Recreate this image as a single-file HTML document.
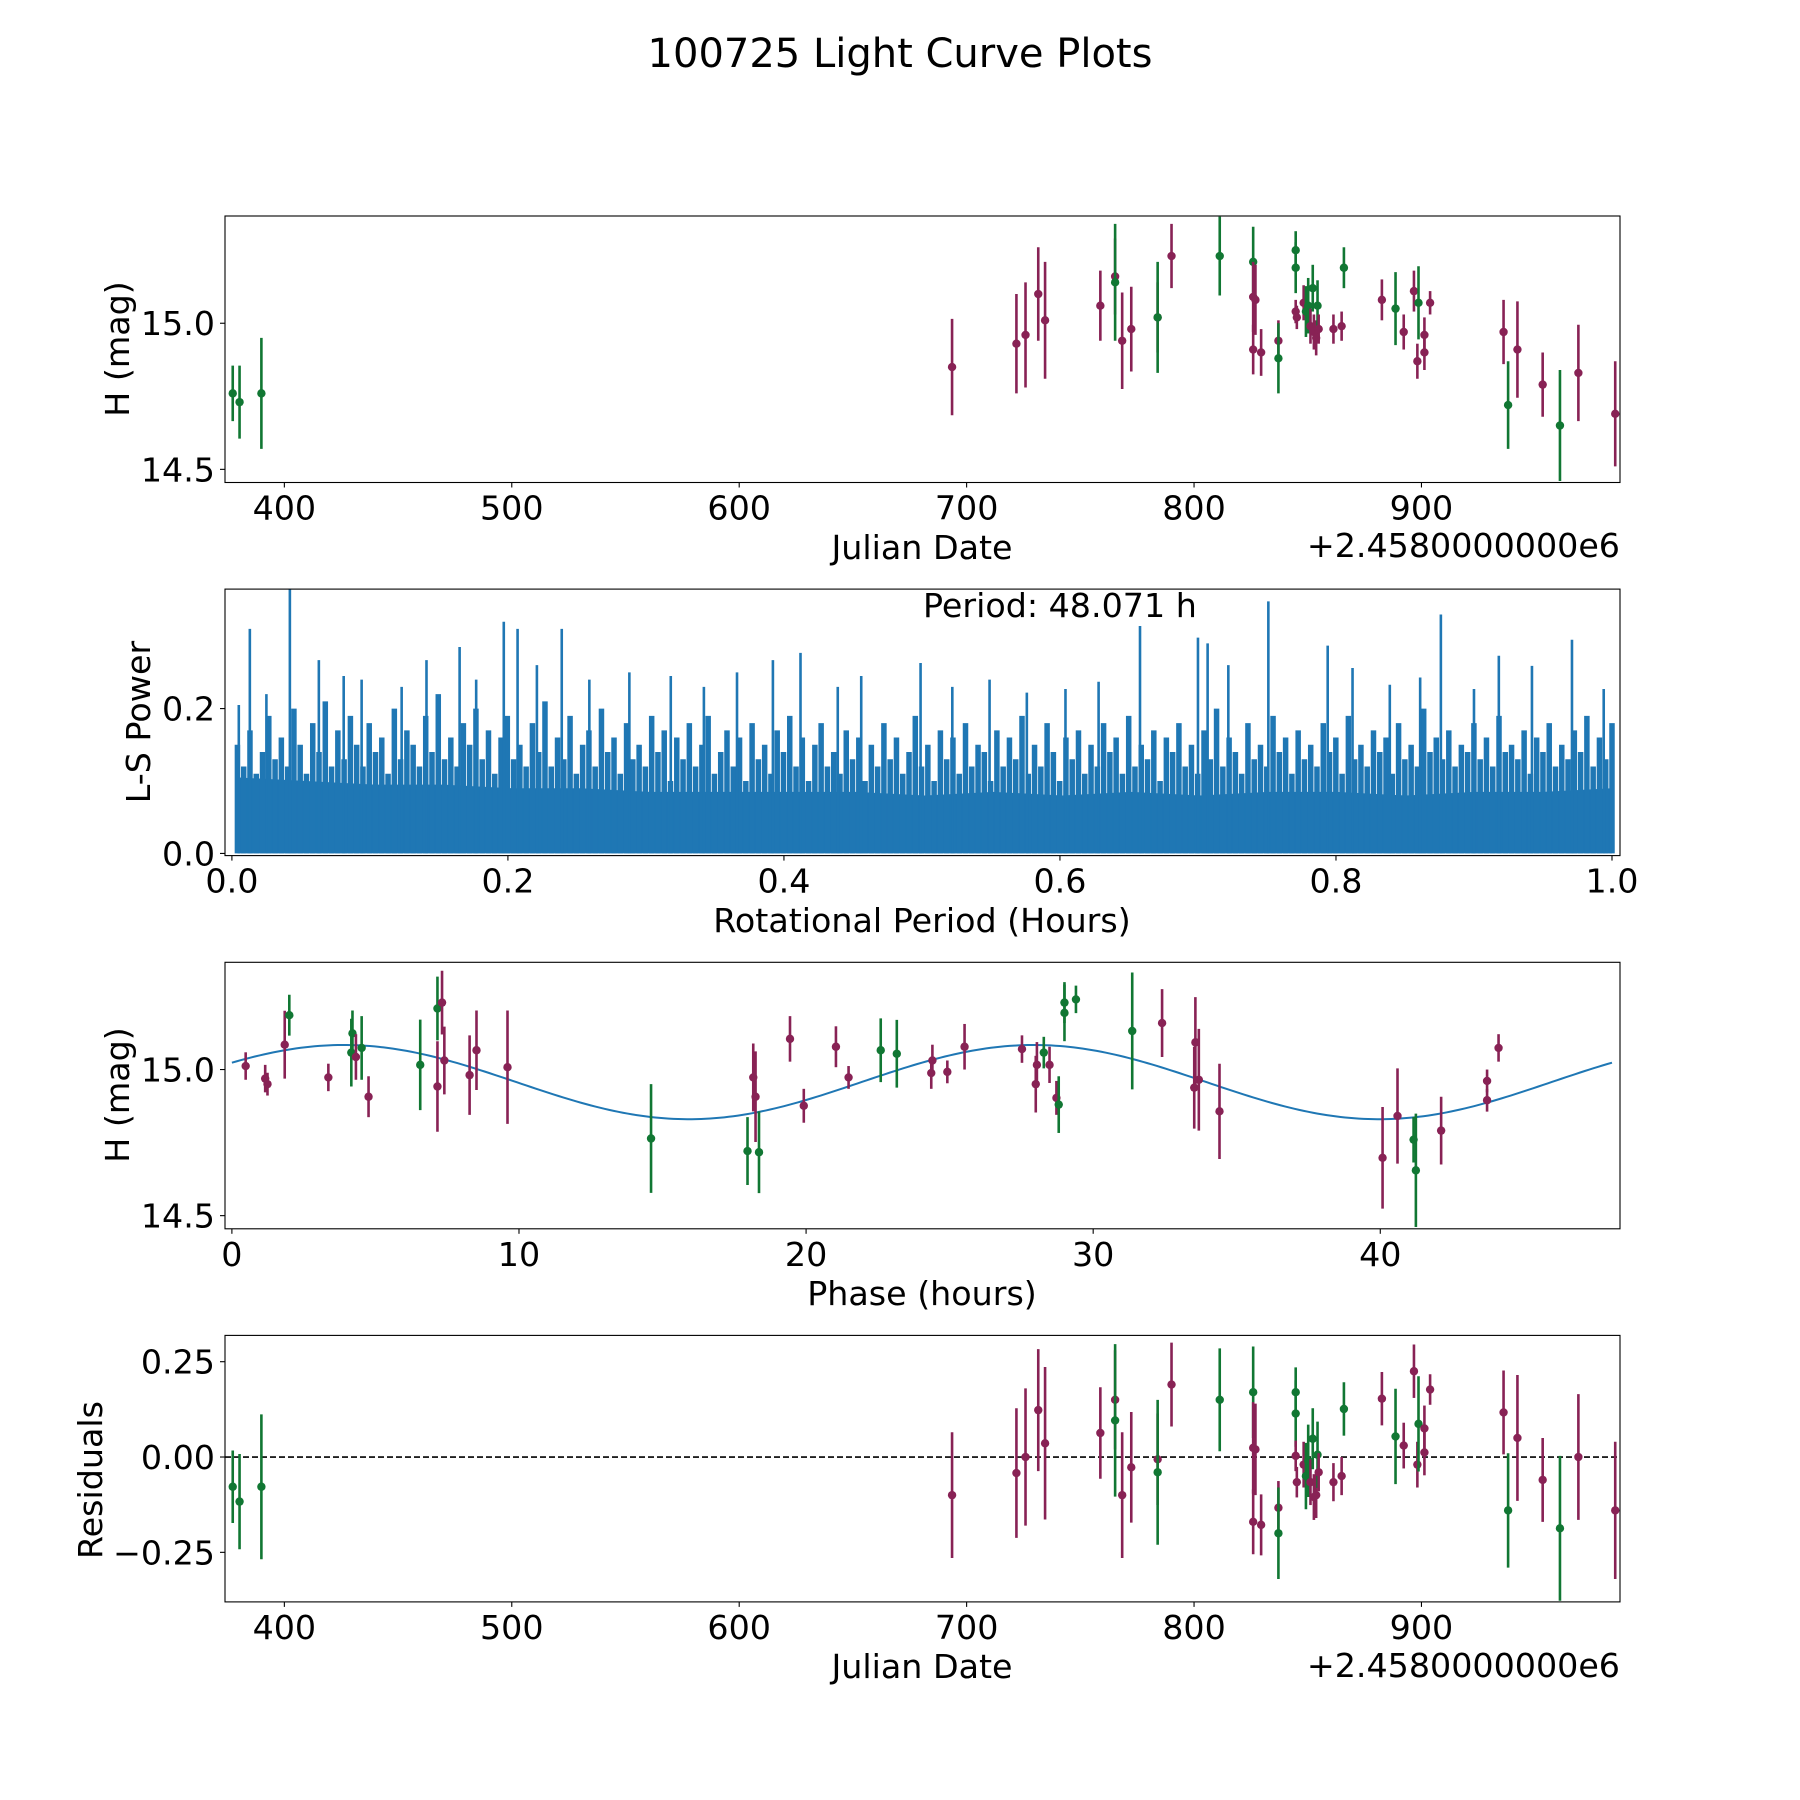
<!DOCTYPE html>
<html><head><meta charset="utf-8"><style>
html,body{margin:0;padding:0;background:#fff;}
svg{display:block;font-family:"DejaVu Sans","Liberation Sans",sans-serif;}
</style></head><body>
<svg id="fig" width="1800" height="1800" viewBox="0 0 1800 1800" xmlns="http://www.w3.org/2000/svg">
<rect width="1800" height="1800" fill="#fff"/>
<text x="900" y="67" font-size="40" text-anchor="middle">100725 Light Curve Plots</text>
</svg>
<script>
// ---------- data: observations ----------
const obsJD = [377.3,380.3,389.9,693.6,721.9,725.9,731.5,734.5,758.8,765.3,765.3,768.4,772.4,784.0,784.0,790.1,811.3,826.0,826.0,827.0,826.0,829.5,837.1,837.1,844.7,844.7,844.7,845.2,848.2,849.2,850.2,851.2,852.2,852.7,853.7,854.3,854.8,861.3,864.9,865.9,882.6,888.6,892.2,896.7,898.2,898.7,901.3,901.3,903.8,936.1,938.1,942.2,953.3,960.9,969.0,985.2];
const obsMag = [14.76,14.73,14.76,14.85,14.93,14.96,15.10,15.01,15.06,15.16,15.14,14.94,14.98,15.02,15.02,15.23,15.23,15.21,15.09,15.08,14.91,14.90,14.94,14.88,15.25,15.19,15.04,15.02,15.07,15.04,15.06,14.99,15.12,14.97,14.95,15.06,14.98,14.98,14.99,15.19,15.08,15.05,14.97,15.11,14.87,15.07,14.96,14.90,15.07,14.97,14.72,14.91,14.79,14.65,14.83,14.69];
const obsErr = [0.095,0.125,0.19,0.165,0.17,0.18,0.16,0.2,0.12,0.13,0.2,0.165,0.145,0.12,0.19,0.11,0.135,0.12,0.12,0.12,0.085,0.08,0.07,0.12,0.065,0.087,0.04,0.04,0.06,0.087,0.095,0.06,0.08,0.06,0.06,0.087,0.05,0.05,0.05,0.07,0.07,0.125,0.06,0.07,0.06,0.125,0.06,0.06,0.04,0.11,0.15,0.165,0.11,0.19,0.165,0.18];
const obsFilter = ['g','g','g','m','m','m','m','m','m','m','g','m','m','m','g','m','g','g','m','m','m','m','m','g','g','g','m','m','m','g','g','m','g','m','m','g','m','m','m','g','m','g','m','m','m','g','m','m','m','m','g','m','m','g','m','m'];
const obsResid = [-0.078,-0.117,-0.078,-0.10,-0.042,0.0,0.123,0.036,0.063,0.15,0.096,-0.10,-0.027,-0.006,-0.04,0.19,0.15,0.17,0.024,0.02,-0.17,-0.178,-0.133,-0.2,0.17,0.114,0.003,-0.066,-0.02,-0.05,-0.01,-0.066,0.048,-0.105,-0.1,0.006,-0.04,-0.066,-0.05,0.126,0.153,0.054,0.03,0.225,-0.02,0.087,0.075,0.012,0.177,0.117,-0.14,0.05,-0.06,-0.187,0.0,-0.14];
// ---------- data: phased ----------
const phaseHours = [0.48,1.16,1.24,1.84,2.0,3.36,4.2,4.16,4.32,4.52,4.76,6.56,7.16,7.16,7.32,7.4,8.28,8.52,9.6,14.6,17.96,18.16,18.24,18.36,19.44,19.92,21.04,21.48,22.6,23.16,24.36,24.4,24.92,25.52,27.52,28.0,28.04,28.28,28.48,28.72,28.8,29.0,29.0,29.4,31.36,32.4,33.52,33.56,33.68,34.4,40.08,40.6,41.16,41.24,42.12,43.72,43.72,44.12];
const phaseMag = [15.012,14.969,14.95,15.085,15.186,14.973,15.124,15.058,15.043,15.074,14.907,15.016,14.942,15.209,15.229,15.031,14.981,15.066,15.008,14.764,14.721,14.973,14.907,14.717,15.105,14.876,15.078,14.973,15.066,15.054,14.988,15.031,14.992,15.078,15.07,14.95,15.016,15.058,15.016,14.903,14.88,15.229,15.194,15.24,15.132,15.159,14.938,15.093,14.965,14.857,14.698,14.841,14.76,14.655,14.791,14.895,14.961,15.074];
const phaseErr = [0.047,0.047,0.039,0.116,0.07,0.047,0.078,0.116,0.078,0.109,0.07,0.155,0.155,0.109,0.109,0.116,0.136,0.136,0.194,0.186,0.116,0.116,0.155,0.14,0.078,0.058,0.07,0.039,0.109,0.116,0.054,0.054,0.039,0.078,0.047,0.097,0.078,0.054,0.062,0.058,0.097,0.07,0.097,0.047,0.2,0.116,0.14,0.155,0.174,0.163,0.174,0.163,0.078,0.194,0.116,0.039,0.039,0.047];
const phaseFilter = ['m','m','m','m','g','m','g','g','m','g','m','g','m','g','m','m','m','m','m','g','g','m','m','g','m','m','m','m','g','g','m','m','m','m','m','m','m','g','m','m','g','g','g','g','g','m','m','m','m','m','m','m','g','g','m','m','m','m'];
const modelMean = 14.957, modelAmp = 0.127, modelPeriod = 24.035, modelPeakHour = 3.9, foldPeriod = 48.071;
// ---------- data: periodogram ----------
const lsPeakP = [0.005,0.013,0.025,0.042,0.063,0.081,0.094,0.123,0.141,0.165,0.177,0.197,0.207,0.221,0.239,0.259,0.288,0.318,0.342,0.366,0.392,0.412,0.439,0.456,0.499,0.522,0.549,0.576,0.604,0.628,0.658,0.70,0.707,0.722,0.751,0.794,0.812,0.839,0.861,0.876,0.90,0.918,0.942,0.971,0.994];
const lsPeakPower = [0.205,0.31,0.22,0.365,0.267,0.245,0.24,0.23,0.267,0.285,0.24,0.32,0.31,0.26,0.31,0.24,0.25,0.245,0.23,0.25,0.267,0.277,0.23,0.245,0.263,0.23,0.24,0.222,0.227,0.237,0.314,0.298,0.29,0.26,0.348,0.287,0.256,0.233,0.243,0.33,0.227,0.273,0.259,0.295,0.227];
const lsMidPower = [
0.15,0.12,0.17,0.11,0.14,0.19,0.13,0.16,0.12,0.2,0.15,0.11,0.18,0.14,0.21,0.12,0.17,0.13,0.19,0.15,
0.12,0.18,0.14,0.16,0.11,0.2,0.13,0.17,0.15,0.12,0.19,0.14,0.22,0.13,0.16,0.12,0.18,0.15,0.2,0.13,
0.17,0.11,0.16,0.19,0.13,0.15,0.12,0.18,0.14,0.21,0.12,0.16,0.13,0.19,0.11,0.15,0.17,0.12,0.2,0.14,
0.16,0.11,0.18,0.13,0.15,0.12,0.19,0.14,0.17,0.1,0.16,0.13,0.18,0.12,0.15,0.19,0.11,0.14,0.17,0.12,
0.16,0.1,0.18,0.13,0.15,0.11,0.17,0.14,0.19,0.12,0.16,0.1,0.15,0.18,0.12,0.14,0.11,0.17,0.13,0.16,
0.1,0.15,0.12,0.18,0.13,0.16,0.11,0.14,0.19,0.12,0.15,0.1,0.17,0.13,0.16,0.11,0.18,0.12,0.15,0.14,
0.1,0.17,0.12,0.16,0.13,0.19,0.11,0.15,0.12,0.18,0.14,0.1,0.16,0.13,0.17,0.11,0.15,0.12,0.18,0.14,
0.16,0.11,0.19,0.12,0.15,0.13,0.17,0.1,0.16,0.14,0.18,0.12,0.15,0.11,0.17,0.13,0.2,0.12,0.16,0.14,
0.11,0.18,0.13,0.15,0.12,0.19,0.14,0.16,0.11,0.17,0.13,0.15,0.12,0.18,0.14,0.16,0.11,0.19,0.13,0.15,
0.12,0.17,0.14,0.16,0.11,0.18,0.13,0.15,0.12,0.2,0.14,0.16,0.13,0.17,0.12,0.15,0.14,0.18,0.13,0.16,
0.12,0.19,0.14,0.15,0.13,0.17,0.11,0.16,0.14,0.18,0.12,0.15,0.13,0.17,0.14,0.19,0.12,0.16,0.13,0.18];
const lsFloorPower = [0.105,0.1,0.095,0.095,0.09,0.09,0.085,0.085,0.085,0.085,0.08,0.085,0.08,0.085,0.08,0.085,0.085,0.08,0.085,0.085,0.09];
// ---------- ticks ----------
const jdTicks = [400,500,600,700,800,900];
const magTicks = [14.5,15.0];
const lsXTicks = [0.0,0.2,0.4,0.6,0.8,1.0];
const lsYTicks = [0.0,0.2];
const phaseTicks = [0,10,20,30,40];
const residTicks = [-0.25,0.0,0.25];

const svg = document.getElementById('fig');
const NS = 'http://www.w3.org/2000/svg';
const COL = {g:'#117733', m:'#882255'};
const FS = 33.3;
function mk(tag, attrs, parent){const e=document.createElementNS(NS,tag);for(const k in attrs)e.setAttribute(k,attrs[k]);(parent||svg).appendChild(e);return e;}
function fmt(v,d){const s=Math.abs(v).toFixed(d);return (v<0?'\u2212':'')+s;}

const L=225,R=1620,H=266.5;
function panel(top,xlim,ylim,name){
  const g=mk('g',{});
  
  
  const sx=v=>L+(v-xlim[0])/(xlim[1]-xlim[0])*(R-L);
  const sy=v=>top+H-(v-ylim[0])/(ylim[1]-ylim[0])*H;
  const clip='clip-'+name;
  const cp=mk('clipPath',{id:clip},g);mk('rect',{x:L,y:top,width:R-L,height:H},cp);
  const plot=mk('g',{'clip-path':'url(#'+clip+')'},g);
  return {g,plot,sx,sy,top,bot:top+H};
}
function frame(p,name){
  const r=mk('rect',{x:L,y:p.top,width:R-L,height:H,fill:'none',stroke:'#000','stroke-width':1.1},p.g);
  
  
}
function xticks(p,ticks,dec){
  ticks.forEach(t=>{const x=p.sx(t);
    mk('line',{x1:x,x2:x,y1:p.bot,y2:p.bot+5,stroke:'#000','stroke-width':1.1},p.g);
    const tx=mk('text',{x:x,y:p.bot+37,'font-size':FS,'text-anchor':'middle'},p.g);
    
    
    tx.textContent=fmt(t,dec);});
}
function yticks(p,ticks,dec){
  ticks.forEach(t=>{const y=p.sy(t);
    mk('line',{x1:L-5,x2:L,y1:y,y2:y,stroke:'#000','stroke-width':1.1},p.g);
    const tx=mk('text',{x:L-10,y:y+12,'font-size':FS,'text-anchor':'end'},p.g);
    
    
    tx.textContent=fmt(t,dec);});
}
function label(txt,x,y,rot,anchor,name){
  const t=mk('text',{x:x,y:y,'font-size':FS,'text-anchor':anchor||'middle'});
  if(rot)t.setAttribute('transform','rotate(-90 '+x+' '+y+')');
  
  
  t.textContent=txt;
}
function errpt(p,x,y,e,c){
  const g=mk('g',{},p.plot);
  
  
  mk('line',{x1:p.sx(x),x2:p.sx(x),y1:p.sy(y-e),y2:p.sy(y+e),stroke:COL[c],'stroke-width':2.6},g);
  mk('circle',{cx:p.sx(x),cy:p.sy(y),r:4.2,fill:COL[c]},g);
}
const tops=[216,589.1,962.3,1335.4];
const jdLim=[373.9,987.3], magLim=[14.455,15.367];

// Panel 1
const p1=panel(tops[0],jdLim,magLim,'light-curve-panel');
obsJD.forEach((x,i)=>errpt(p1,x,obsMag[i],obsErr[i],obsFilter[i]));
frame(p1,'light-curve-axes');xticks(p1,jdTicks,0);yticks(p1,magTicks,1);
label('Julian Date',922,559,false,'middle','x-axis-title-julian');
label('+2.4580000000e6',1620,557,false,'end','x-offset-label');
label('H (mag)',129,349,true,'middle','y-axis-title-mag');

// Panel 2
const p2=panel(tops[1],[-0.005,1.0058],[-0.003,0.365],'periodogram-panel');
const fl=[];lsFloorPower.forEach((v,i)=>fl.push(p2.sx(0.004+i*(0.996/(lsFloorPower.length-1)))+','+p2.sy(v)));
const poly=mk('polygon',{points:p2.sx(0.004)+','+p2.sy(0)+' '+fl.join(' ')+' '+p2.sx(1)+','+p2.sy(0),fill:'#1f77b4'},p2.plot);


lsMidPower.forEach((v,i)=>{const x=p2.sx(0.004+i*(0.996/(lsMidPower.length-1)));
  const l=mk('line',{x1:x,x2:x,y1:p2.sy(0),y2:p2.sy(v),stroke:'#1f77b4','stroke-width':5.5},p2.plot);
  
  });
lsPeakP.forEach((pp,i)=>{const x=p2.sx(pp);
  const l=mk('line',{x1:x,x2:x,y1:p2.sy(0),y2:p2.sy(lsPeakPower[i]),stroke:'#1f77b4','stroke-width':2.6},p2.plot);
  
  });
frame(p2,'periodogram-axes');xticks(p2,lsXTicks,1);yticks(p2,lsYTicks,1);
label('Rotational Period (Hours)',922,932,false,'middle','x-axis-title-period');
label('L-S Power',150,722,true,'middle','y-axis-title-power');
label('Period: 48.071 h',923,617,false,'start','period-annotation');

// Panel 3
const p3=panel(tops[2],[-0.24,48.35],magLim,'phased-panel');
const pts=[];for(let i=0;i<=300;i++){const h=i*foldPeriod/300;pts.push(p3.sx(h)+','+p3.sy(modelMean+modelAmp*Math.cos(2*Math.PI*(h-modelPeakHour)/modelPeriod)));}
const fit=mk('polyline',{points:pts.join(' '),fill:'none',stroke:'#1f77b4','stroke-width':2},p3.plot);


phaseHours.forEach((x,i)=>errpt(p3,x,phaseMag[i],phaseErr[i],phaseFilter[i]));
frame(p3,'phased-axes');xticks(p3,phaseTicks,0);yticks(p3,magTicks,1);
label('Phase (hours)',922,1305,false,'middle','x-axis-title-phase');
label('H (mag)',129,1095,true,'middle','y-axis-title-mag-phased');

// Panel 4
const p4=panel(tops[3],jdLim,[-0.38,0.319],'residuals-panel');
const zl=mk('line',{x1:L,x2:R,y1:p4.sy(0),y2:p4.sy(0),stroke:'#000','stroke-width':1.6,'stroke-dasharray':'6,3'},p4.plot);


obsJD.forEach((x,i)=>errpt(p4,x,obsResid[i],obsErr[i],obsFilter[i]));
frame(p4,'residuals-axes');xticks(p4,jdTicks,0);yticks(p4,residTicks,2);
label('Julian Date',922,1678,false,'middle','x-axis-title-julian-resid');
label('+2.4580000000e6',1620,1677,false,'end','x-offset-label-resid');
label('Residuals',102,1480,true,'middle','y-axis-title-residuals');
</script>
</body></html>
